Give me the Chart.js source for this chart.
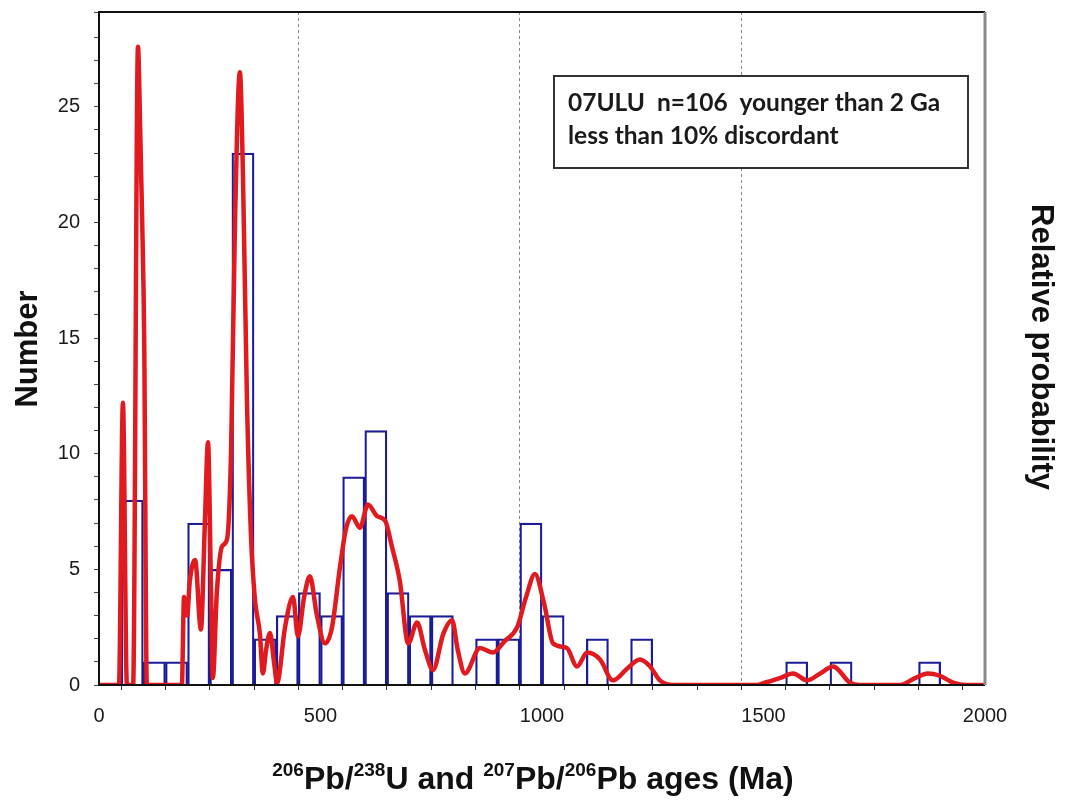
<!DOCTYPE html>
<html>
<head>
<meta charset="utf-8">
<title>07ULU detrital zircon ages</title>
<script src="https://cdn.jsdelivr.net/npm/chart.js@4.4.1/dist/chart.umd.min.js"></script>
<style>
  html, body { margin: 0; padding: 0; background: #fff; }
  #wrap { position: relative; width: 1065px; height: 809px; }
</style>
</head>
<body>
<div id="wrap"><canvas id="ageChart"></canvas></div>
<script>
// Histogram bins (50 Ma wide), lower edge of each bin
const binStarts = [
    0, 50, 100, 150, 200, 250, 300, 350, 400, 450,
    500, 550, 600, 650, 700, 750, 800, 850, 900, 950,
    1000, 1050, 1100, 1150, 1200, 1250, 1300, 1350, 1400, 1450,
    1500, 1550, 1600, 1650, 1700, 1750, 1800, 1850, 1900, 1950
];
// Number of grains per bin
const binCounts = [
    0, 8, 1, 1, 7, 5, 23, 2, 3, 4,
    3, 9, 11, 4, 3, 3, 0, 2, 2, 7,
    3, 0, 2, 0, 2, 0, 0, 0, 0, 0,
    0, 1, 0, 1, 0, 0, 0, 1, 0, 0
];
const binWidth = 50;

// Relative probability curve (age in Ma, plotted height)
const probAges = [
    0, 43, 45, 54, 63, 77, 88, 93, 97, 102, 108,
    187, 192, 199, 205, 217, 230, 239, 246, 253, 257, 266, 278, 289,
    298, 307, 318, 325, 334, 343, 352, 363, 370, 377, 386, 395, 402,
    420, 438, 449, 463, 476, 492, 510, 526, 544, 558, 571, 589, 607,
    628, 646, 661, 679, 698, 718, 736, 754, 777, 797, 810, 826, 860,
    889, 916, 944, 964, 984, 1005, 1025, 1056, 1079, 1102, 1131, 1160,
    1192, 1221, 1244, 1266, 1296, 1485, 1503, 1537, 1567, 1598, 1628,
    1657, 1695, 1718, 1808, 1842, 1871, 1898, 1928, 1959, 2000
];
const probValues = [
    0, 0, 0, 12.2, 0, 0, 27.6, 24, 20.5, 15, 0,
    0, 3.8, 3.0, 4.5, 5.4, 2.4, 7, 10.5, 4, 0.3, 4, 6.0, 6.3,
    10, 20, 26.5, 22, 12.3, 6.5, 3.7, 2.25, 0.5, 1.5, 2.25, 1.0, 0.1,
    2.5, 3.8, 2.1, 3.8, 4.7, 3.0, 1.8, 2.5, 5.1, 6.8, 7.3, 6.8, 7.8,
    7.3, 7.1, 6.0, 4.5, 1.8, 2.7, 1.5, 0.65, 2.2, 2.8, 1.5, 0.5, 1.6,
    1.4, 1.9, 2.5, 3.8, 4.8, 3.5, 1.8, 1.6, 0.8, 1.4, 1.1, 0.2,
    0.7, 1.1, 0.8, 0.2, 0, 0, 0.1, 0.3, 0.5, 0.2, 0.5,
    0.8, 0.1, 0, 0, 0.3, 0.5, 0.4, 0.1, 0, 0
];

// Axis ranges and labelled ticks
const xMin = 0, xMax = 2000;
const yMax = 29.1;
const xLabelTicks = [0, 500, 1000, 1500, 2000];
const xGridTicks = [500, 1000, 1500];
const yLabelTicks = [0, 5, 10, 15, 20, 25];

const sampleLines = ['07ULU  n=106  younger than 2 Ga', 'less than 10% discordant'];

const FONT = '"Liberation Sans", Arial, sans-serif';

/**
 * Plot frame, axis titles (with isotope superscripts) and the sample box
 */
const decorations = {
    id: 'decorations',
    afterDraw(chart) {
        const ctx = chart.ctx;
        const area = chart.chartArea;

        ctx.save();

        // frame
        ctx.lineWidth = 2;
        ctx.strokeStyle = '#111';
        ctx.beginPath();
        ctx.moveTo(area.right, area.top);
        ctx.lineTo(area.left, area.top);
        ctx.lineTo(area.left, area.bottom);
        ctx.lineTo(area.right, area.bottom);
        ctx.stroke();
        ctx.lineWidth = 3;
        ctx.strokeStyle = '#888';
        ctx.beginPath();
        ctx.moveTo(area.right, area.top);
        ctx.lineTo(area.right, area.bottom);
        ctx.stroke();

        ctx.fillStyle = '#111';
        ctx.textAlign = 'center';
        ctx.textBaseline = 'middle';

        // left title
        ctx.save();
        ctx.font = 'bold 31px ' + FONT;
        ctx.translate(28, 349);
        ctx.rotate(-Math.PI / 2);
        ctx.fillText('Number', 0, 0);
        ctx.restore();

        // right title
        ctx.save();
        ctx.font = 'bold 31px ' + FONT;
        ctx.translate(1041, 347);
        ctx.rotate(Math.PI / 2);
        ctx.fillText('Relative probability', 0, 0);
        ctx.restore();

        // bottom title with superscript mass numbers
        const parts = [
            ['206', true], ['Pb/', false], ['238', true], ['U and ', false],
            ['207', true], ['Pb/', false], ['206', true], ['Pb ages (Ma)', false]
        ];
        const bigFont = 'bold 32px ' + FONT;
        const supFont = 'bold 19px ' + FONT;
        let total = 0;
        parts.forEach(([t, sup]) => {
            ctx.font = sup ? supFont : bigFont;
            total += ctx.measureText(t).width;
        });
        let x = 533 - total / 2;
        const base = 789;
        ctx.textAlign = 'left';
        ctx.textBaseline = 'alphabetic';
        parts.forEach(([t, sup]) => {
            ctx.font = sup ? supFont : bigFont;
            ctx.fillText(t, x, sup ? base - 13 : base);
            x += ctx.measureText(t).width;
        });

        // sample box
        ctx.fillStyle = '#fff';
        ctx.fillRect(554, 76, 414, 92);
        ctx.lineWidth = 2;
        ctx.strokeStyle = '#333';
        ctx.strokeRect(554, 76, 414, 92);
        ctx.fillStyle = '#1a1a1a';
        ctx.font = 'bold 24.5px Lato, "Open Sans", sans-serif';
        ctx.fillText(sampleLines[0], 568, 111);
        ctx.fillText(sampleLines[1], 568, 144);

        ctx.restore();
    }
};

/**
 * Build the histogram + probability chart
 */
function initAgeChart() {
    const canvas = document.getElementById('ageChart');

    const histData = binStarts.map((s, i) => ({ x: s + binWidth / 2, y: binCounts[i] }));
    const probData = probAges.map((a, i) => ({ x: a, y: probValues[i] }));

    // keep the plot area fixed: no extra room for half-height tick labels
    const noOverhang = scale => {
        scale.paddingTop = 0;
        scale.paddingBottom = 0;
        scale.paddingLeft = 0;
        scale.paddingRight = 0;
    };

    return new Chart(canvas, {
        type: 'bar',
        data: {
            datasets: [
                {
                    type: 'line',
                    label: 'Relative probability',
                    data: probData,
                    yAxisID: 'y2',
                    borderColor: 'rgb(224, 26, 30)',
                    borderWidth: 4.5,
                    pointRadius: 0,
                    fill: false,
                    cubicInterpolationMode: 'monotone',
                    order: 0
                },
                {
                    label: 'Number',
                    data: histData,
                    backgroundColor: 'rgba(255, 255, 255, 0)',
                    borderColor: 'rgb(28, 28, 150)',
                    borderWidth: 1.6,
                    barPercentage: 1,
                    categoryPercentage: 1,
                    order: 1
                }
            ]
        },
        options: {
            responsive: true,
            maintainAspectRatio: false,
            animation: false,
            layout: { padding: { top: 12, right: 80, bottom: 0, left: 0 } },
            plugins: {
                legend: { display: false },
                tooltip: { enabled: false },
                title: { display: false }
            },
            scales: {
                x: {
                    type: 'linear',
                    min: xMin,
                    max: xMax,
                    offset: false,
                    afterFit(scale) { scale.height = 124; noOverhang(scale); },
                    ticks: {
                        stepSize: 100,
                        autoSkip: false,
                        maxRotation: 0,
                        padding: 14,
                        color: '#1a1a1a',
                        font: { family: FONT, size: 20 },
                        callback: v => (xLabelTicks.includes(v) ? v : '')
                    },
                    grid: {
                        drawOnChartArea: true,
                        color: c => (c.tick && xGridTicks.includes(c.tick.value) ? '#8a8a8a' : 'rgba(0,0,0,0)'),
                        lineWidth: 1,
                        tickColor: '#333',
                        tickLength: 5
                    },
                    border: { display: false, dash: [3, 3] }
                },
                y: {
                    min: 0,
                    max: yMax,
                    afterFit(scale) { scale.width = 99; noOverhang(scale); },
                    ticks: {
                        stepSize: 1,
                        autoSkip: false,
                        padding: 14,
                        color: '#1a1a1a',
                        font: { family: FONT, size: 20 },
                        callback: v => (yLabelTicks.includes(v) ? v : '')
                    },
                    grid: {
                        drawOnChartArea: false,
                        tickColor: '#444',
                        tickLength: 5
                    },
                    border: { display: false }
                },
                y2: {
                    display: false,
                    position: 'right',
                    min: 0,
                    max: yMax
                }
            }
        },
        plugins: [decorations]
    });
}

document.addEventListener('DOMContentLoaded', initAgeChart);
</script>
</body>
</html>
